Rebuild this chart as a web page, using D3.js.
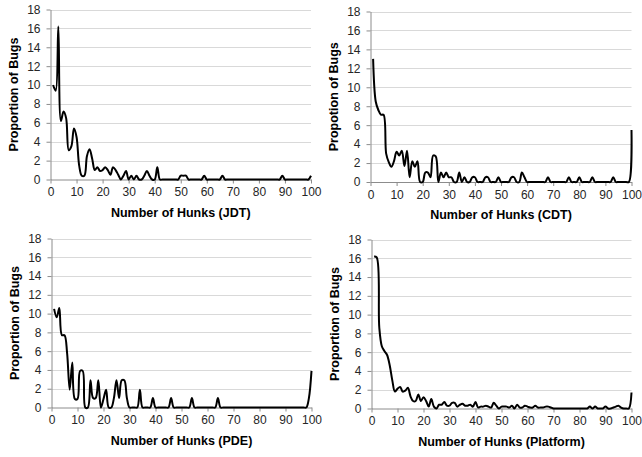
<!DOCTYPE html>
<html>
<head>
<meta charset="utf-8">
<script src="https://cdn.jsdelivr.net/npm/d3@7"></script>
<style>
  body { margin: 0; background: #fff; }
  svg { display: block; }
  .tick text { font-family: "Liberation Sans", Arial, sans-serif; font-size: 12px; fill: #262626; }
  .title { font-family: "Liberation Sans", Arial, sans-serif; font-size: 12.5px; font-weight: bold; fill: #000; }
</style>
</head>
<body>
<svg id="chart" width="642" height="457"></svg>
<script>
// data: proportion of bugs (%) per number of hunks, hunks = 1..100
const hunks = d3.range(1, 101);
const xTickLabels = [0, 10, 20, 30, 40, 50, 60, 70, 80, 90, 100];
const yTickLabels = [0, 2, 4, 6, 8, 10, 12, 14, 16, 18];

const jdtValues = [
  10.0, 9.4, 16.2, 6.2, 7.2, 6.5, 3.1, 3.5, 5.4, 4.5,
  1.5, 0.4, 0.4, 2.5, 3.2, 2.2, 1.0, 1.3, 0.9, 1.0,
  1.3, 1.0, 0.5, 1.3, 1.0, 0.5, 0, 0.4, 0.9, 0,
  0.4, 0, 0.4, 0, 0, 0.4, 0.9, 0.4, 0, 0,
  1.3, 0, 0, 0, 0, 0, 0, 0, 0, 0.4,
  0.4, 0.4, 0, 0, 0, 0, 0, 0, 0.4, 0,
  0, 0, 0, 0, 0, 0.4, 0, 0, 0, 0,
  0, 0, 0, 0, 0, 0, 0, 0, 0, 0,
  0, 0, 0, 0, 0, 0, 0, 0, 0.4, 0,
  0, 0, 0, 0, 0, 0, 0, 0, 0, 0.4
];

const cdtValues = [
  13.0, 8.5, 7.6, 7.1, 7.1, 3.0, 2.1, 1.6, 2.2, 3.2,
  2.8, 3.3, 1.7, 3.3, 0.5, 2.2, 1.6, 2.2, 0, 0,
  1.0, 1.0, 0.5, 2.8, 2.7, 0, 1.0, 0.5, 1.0, 0.5,
  0.5, 0, 0, 1.0, 0, 0.5, 0, 0, 0.5, 0.5,
  0, 0, 0, 0.5, 0.5, 0, 0, 0, 0.5, 0,
  0, 0, 0, 0.5, 0.5, 0, 0, 1.0, 0.5, 0,
  0, 0, 0, 0, 0, 0, 0, 0.5, 0, 0,
  0, 0, 0, 0, 0, 0.5, 0, 0, 0, 0.5,
  0, 0, 0, 0, 0.5, 0, 0, 0, 0, 0,
  0, 0, 0.5, 0, 0, 0, 0, 0, 0, 5.5
];

const pdeValues = [
  10.5, 9.6, 10.6, 7.7, 7.7, 5.8, 1.9, 4.8, 0.9, 0.9,
  3.9, 3.9, 0, 0, 2.9, 1.0, 1.0, 2.9, 0, 0.9,
  1.9, 0, 0, 1.0, 2.9, 1.0, 2.9, 2.9, 1.0, 0,
  0, 0, 0, 1.9, 0, 0, 0, 0, 1.0, 0,
  0, 0, 0, 0, 0, 1.0, 0, 0, 0, 0,
  0, 0, 0, 1.0, 0, 0, 0, 0, 0, 0,
  0, 0, 0, 1.0, 0, 0, 0, 0, 0, 0,
  0, 0, 0, 0, 0, 0, 0, 0, 0, 0,
  0, 0, 0, 0, 0, 0, 0, 0, 0, 0,
  0, 0, 0, 0, 0, 0, 0, 0, 1.0, 3.9
];

const platformValues = [
  16.2, 16.1, 8.6, 6.6, 6.1, 5.7, 4.6, 3.0, 1.8, 2.1,
  2.3, 1.8, 1.9, 2.2, 1.3, 0.8, 0.8, 1.5, 0.8, 1.2,
  0.8, 0.2, 1.0, 0.2, 0, 0.4, 0.4, 0.7, 0.3, 0.3,
  0.6, 0.6, 0.2, 0.4, 0.5, 0.3, 0.3, 0.4, 0.2, 0.7,
  0.1, 0.2, 0.2, 0.3, 0.2, 0.1, 0.6, 0.3, 0, 0.2,
  0.2, 0.2, 0.1, 0.3, 0, 0.4, 0.1, 0.1, 0.3, 0.2,
  0.1, 0.1, 0.3, 0.1, 0.1, 0.1, 0.2, 0.2, 0.1, 0,
  0, 0, 0, 0, 0, 0, 0, 0, 0, 0,
  0, 0, 0, 0.2, 0, 0.2, 0, 0, 0, 0.2,
  0, 0, 0.1, 0.2, 0.3, 0.1, 0, 0, 0, 1.7
];

// panel layout (plot area edges in px)
const panels = [
  {values: jdtValues, xTitle: 'Number of Hunks (JDT)', yTitle: 'Proportion of Bugs',
   left: 50.5, right: 311, top: 9.5, bottom: 179.5},
  {values: cdtValues, xTitle: 'Number of Hunks (CDT)', yTitle: 'Propotion of Bugs',
   left: 370.5, right: 631.5, top: 11.5, bottom: 182},
  {values: pdeValues, xTitle: 'Number of Hunks (PDE)', yTitle: 'Proportion of Bugs',
   left: 51.5, right: 311.5, top: 238.5, bottom: 407.5},
  {values: platformValues, xTitle: 'Number of Hunks (Platform)', yTitle: 'Proportion of Bugs',
   left: 371.5, right: 631.5, top: 239.5, bottom: 408.5}
];

const svg = d3.select('#chart');

panels.forEach(p => {
  const x = d3.scaleLinear().domain([0, 100]).range([p.left, p.right]);
  const y = d3.scaleLinear().domain([0, 18]).range([p.bottom, p.top]);
  const g = svg.append('g');

  // gridlines
  g.selectAll('line.grid')
    .data(yTickLabels.filter(d => d > 0))
    .enter()
    .append('line')
    .attr('class', 'grid')
    .attr('x1', p.left).attr('x2', p.right)
    .attr('y1', d => Math.round(y(d)) + 0.5).attr('y2', d => Math.round(y(d)) + 0.5)
    .attr('stroke', '#d9d9d9')
    .attr('stroke-width', 1);

  // axes
  const yAxis = g.append('g')
    .attr('transform', `translate(${p.left},0)`)
    .call(d3.axisLeft(y).tickValues(yTickLabels).tickSize(4).tickSizeOuter(0).tickPadding(6));
  const xAxis = g.append('g')
    .attr('transform', `translate(0,${p.bottom})`)
    .call(d3.axisBottom(x).tickValues(xTickLabels).tickSize(4).tickSizeOuter(0).tickPadding(4));
  [xAxis, yAxis].forEach(a => {
    a.select('.domain').attr('stroke', '#8c8c8c');
    a.selectAll('.tick line').attr('stroke', '#8c8c8c');
  });

  // series line (smoothed)
  const line = d3.line()
    .x((d, i) => x(hunks[i]))
    .y(d => y(d))
    .curve(d3.curveCatmullRom.alpha(0.5));
  g.append('path')
    .datum(p.values)
    .attr('d', line)
    .attr('fill', 'none')
    .attr('stroke', '#000')
    .attr('stroke-width', 2)
    .attr('stroke-linejoin', 'round');

  // titles
  g.append('text')
    .attr('class', 'title')
    .attr('x', (p.left + p.right) / 2)
    .attr('y', p.bottom + 33)
    .attr('dy', '0.35em')
    .attr('text-anchor', 'middle')
    .text(p.xTitle);
  g.append('text')
    .attr('class', 'title')
    .attr('transform', `translate(${p.left - 37},${(p.top + p.bottom) / 2}) rotate(-90)`)
    .attr('dy', '0.35em')
    .attr('text-anchor', 'middle')
    .text(p.yTitle);
});
</script>
</body>
</html>
